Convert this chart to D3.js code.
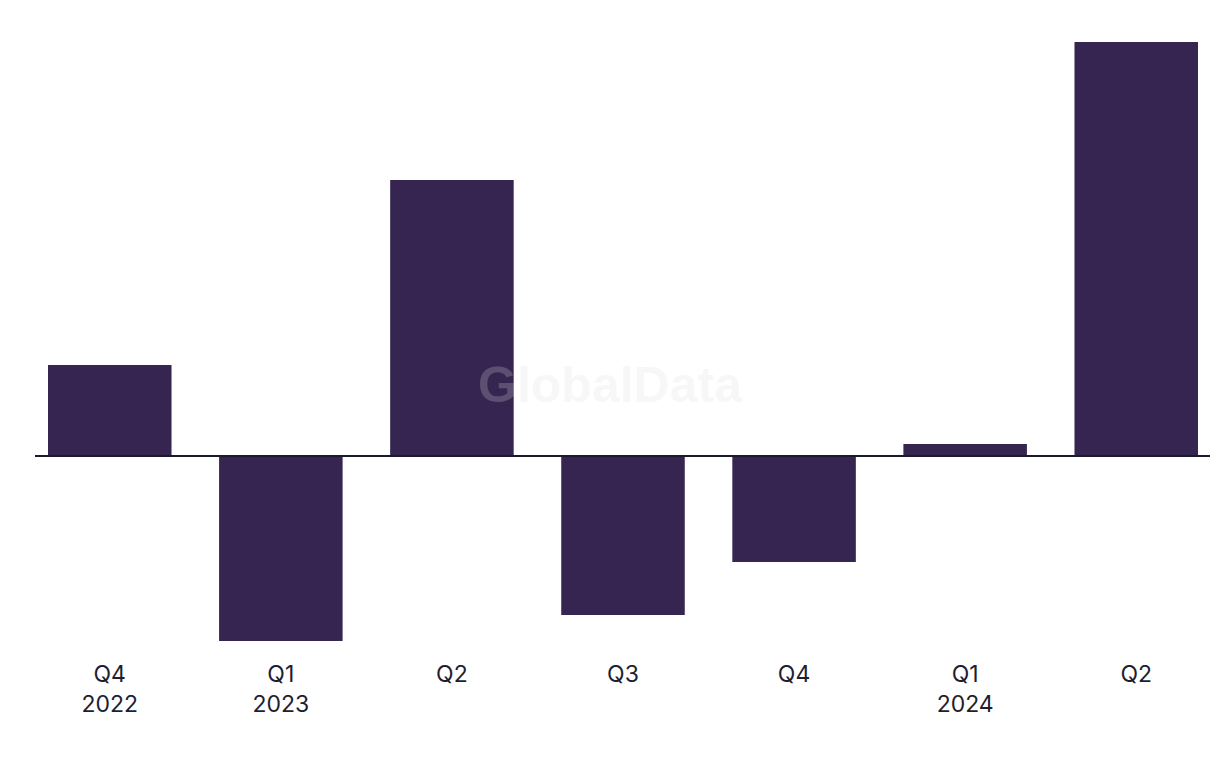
<!DOCTYPE html>
<html>
<head>
<meta charset="utf-8">
<script src="https://cdn.jsdelivr.net/npm/d3@7"></script>
<style>
  html, body { margin: 0; padding: 0; background: #fff; }
  svg { display: block; }
</style>
</head>
<body>
<svg id="chart" width="1220" height="768"></svg>
<script>
const quarters = ["Q4", "Q1", "Q2", "Q3", "Q4", "Q1", "Q2"];
const years = ["2022", "2023", "", "", "", "2024", ""];
const values = [9.1, -18.5, 27.6, -15.9, -10.6, 1.2, 41.4];

const svg = d3.select("#chart");
const W = 1220, H = 768;

const x = d3.scaleBand()
  .domain(d3.range(values.length))
  .range([48, 1198])
  .paddingInner(0.278)
  .paddingOuter(0);

const y = d3.scaleLinear()
  .domain([-20, 43])
  .range([656, 26]);

svg.append("g")
  .selectAll("rect")
  .data(values)
  .join("rect")
  .attr("x", (d, i) => x(i))
  .attr("width", x.bandwidth())
  .attr("y", d => y(Math.max(0, d)))
  .attr("height", d => Math.abs(y(d) - y(0)))
  .attr("fill", "#372551");

svg.append("line")
  .attr("x1", 35).attr("x2", 1210)
  .attr("y1", y(0)).attr("y2", y(0))
  .attr("stroke", "#1a1a2e")
  .attr("stroke-width", 2);

const labels = svg.append("g")
  .attr("font-family", "Inter, 'Liberation Sans', Arial, sans-serif")
  .attr("font-size", 23)
  .attr("fill", "#1e1e30")
  .attr("text-anchor", "middle");

labels.selectAll("text.q")
  .data(quarters)
  .join("text")
  .attr("class", "q")
  .attr("x", (d, i) => x(i) + x.bandwidth() / 2)
  .attr("y", 682)
  .text(d => d);

labels.selectAll("text.yr")
  .data(years)
  .join("text")
  .attr("class", "yr")
  .attr("x", (d, i) => x(i) + x.bandwidth() / 2)
  .attr("y", 712)
  .text(d => d);

svg.append("text")
  .attr("x", 610)
  .attr("y", 402)
  .attr("text-anchor", "middle")
  .attr("font-family", "'Liberation Sans', Arial, sans-serif")
  .attr("font-weight", "bold")
  .attr("font-size", 50)
  .attr("fill", "rgb(220,220,220)")
  .attr("fill-opacity", 0.23)
  .text("GlobalData");
</script>
</body>
</html>
